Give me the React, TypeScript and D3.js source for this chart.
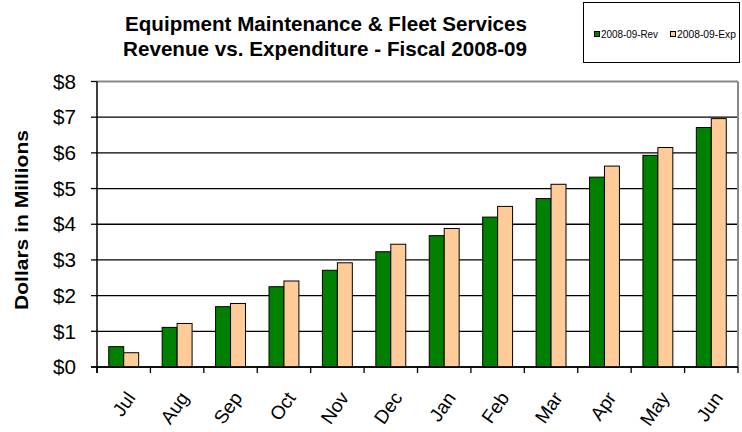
import React from 'react';
import * as d3 from 'd3';

const months = ['Jul', 'Aug', 'Sep', 'Oct', 'Nov', 'Dec', 'Jan', 'Feb', 'Mar', 'Apr', 'May', 'Jun'];
const revenue = [0.57, 1.11, 1.69, 2.25, 2.71, 3.23, 3.68, 4.2, 4.72, 5.32, 5.93, 6.71];
const expenditure = [0.4, 1.22, 1.78, 2.41, 2.92, 3.44, 3.88, 4.5, 5.12, 5.63, 6.15, 6.96];
const seriesNames = ['2008-09-Rev', '2008-09-Exp'];
const seriesColors = ['#008000', '#FFCC99'];
const yTicks = [0, 1, 2, 3, 4, 5, 6, 7, 8];
const titleLines = ['Equipment Maintenance & Fleet Services', 'Revenue vs. Expenditure - Fiscal 2008-09'];
const yAxisTitle = 'Dollars in Millions';

const W = 742;
const H = 432;
const FONT = '"Liberation Sans", Arial, Helvetica, sans-serif';

export default function App() {
  const left = 97;
  const right = 738;
  const top = 81.5;
  const bottom = 367;
  const pad = 0.44;

  const x = d3.scaleBand<string>().domain(months).range([left, right]).paddingInner(pad).paddingOuter(pad / 2);
  const xs = d3.scaleBand<string>().domain(seriesNames).range([0, x.bandwidth()]);
  const y = d3.scaleLinear().domain([0, 8]).range([bottom, top]);
  const series = [revenue, expenditure];
  const step = x.step();
  const boundaries = d3.range(months.length + 1).map((i) => left + i * step);

  return (
    <svg width={W} height={H} style={{ position: 'absolute', left: 0, top: 0, background: '#fff' }} fontFamily={FONT}>
      <rect x={0} y={0} width={W} height={H} fill="#fff" />
      {/* Title */}
      <text x={326} y={30.5} textAnchor="middle" fontSize={21} fontWeight="bold" textLength={402} lengthAdjust="spacingAndGlyphs">
        {titleLines[0]}
      </text>
      <text x={325} y={55.5} textAnchor="middle" fontSize={21} fontWeight="bold" textLength={404} lengthAdjust="spacingAndGlyphs">
        {titleLines[1]}
      </text>

      {/* Legend */}
      <rect x={583.5} y={2.5} width={156} height={60} fill="#fff" stroke="#000" strokeWidth={1} />
      {seriesNames.map((s, i) => {
        const lx = i === 0 ? 594 : 670;
        return (
          <g key={s}>
            <rect x={lx + 0.5} y={31.5} width={5} height={5} fill={seriesColors[i]} stroke="#000" strokeWidth={1} />
            <text x={lx + 7} y={38} fontSize={11} textLength={i === 0 ? 57 : 59} lengthAdjust="spacingAndGlyphs">
              {s}
            </text>
          </g>
        );
      })}

      {/* Gridlines */}
      {yTicks.map((t) => (
        <line key={t} x1={left} x2={right} y1={y(t)} y2={y(t)} stroke={t === 8 ? '#888' : '#000'} strokeWidth={t === 8 ? 2 : 1.3} />
      ))}
      {/* right border */}
      <line x1={right} x2={right} y1={top} y2={bottom} stroke="#888" strokeWidth={2} />

      {/* Bars */}
      {months.map((m, i) => (
        <g key={m}>
          {series.map((vals, si) => (
            <rect
              key={si}
              x={(x(m) as number) + (xs(seriesNames[si]) as number)}
              y={y(vals[i])}
              width={xs.bandwidth()}
              height={bottom - y(vals[i])}
              fill={seriesColors[si]}
              stroke="#000"
              strokeWidth={1}
            />
          ))}
        </g>
      ))}

      {/* Axes */}
      <line x1={left} x2={left} y1={top} y2={bottom + 6} stroke="#000" strokeWidth={1.5} />
      <line x1={left - 6} x2={right} y1={bottom} y2={bottom} stroke="#000" strokeWidth={1.5} />
      {yTicks.map((t) => (
        <g key={t}>
          <line x1={left - 6} x2={left} y1={y(t)} y2={y(t)} stroke="#000" strokeWidth={1.3} />
          <text x={76} y={y(t)} dy="0.36em" textAnchor="end" fontSize={20} textLength={23} lengthAdjust="spacingAndGlyphs">
            {`$${t}`}
          </text>
        </g>
      ))}
      {boundaries.map((b, i) => (
        <line key={i} x1={b} x2={b} y1={bottom} y2={bottom + 6} stroke="#000" strokeWidth={1.3} />
      ))}
      {months.map((m) => {
        const cx = (x(m) as number) + x.bandwidth() / 2;
        return (
          <text key={m} transform={`translate(${cx + 7},${394}) rotate(-55)`} textAnchor="end" fontSize={19} dy="0.35em">
            {m}
          </text>
        );
      })}

      {/* Y axis title */}
      <text transform={`translate(28,220) rotate(-90)`} textAnchor="middle" fontSize={18} fontWeight="bold" textLength={180} lengthAdjust="spacingAndGlyphs">
        {yAxisTitle}
      </text>
    </svg>
  );
}
